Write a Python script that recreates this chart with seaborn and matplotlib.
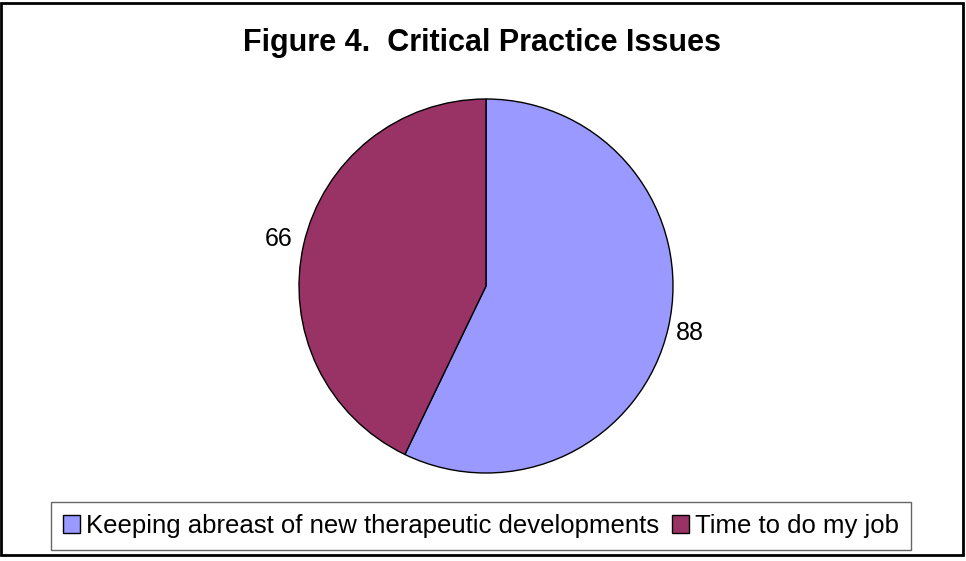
import numpy as np
import seaborn as sns
import matplotlib.pyplot as plt
from matplotlib.patches import Rectangle

# Данные
categories = ['Keeping abreast of new therapeutic developments', 'Time to do my job']
values = [88, 66]
colors = ['#9999FF', '#993366']
title = 'Figure 4.  Critical Practice Issues'

sns.set_theme(style='white')
plt.rcParams['font.family'] = ['Liberation Sans', 'DejaVu Sans']

fig = plt.figure(figsize=(9.66, 5.61), dpi=100)
fig.patch.set_facecolor('white')

# Рамка вокруг всего рисунка
fig.patches.append(Rectangle((1 / 966, 6 / 561), 962 / 966, 552 / 561,
                             transform=fig.transFigure, fill=False,
                             edgecolor='black', linewidth=2))

ax = fig.add_axes([299 / 966, 88 / 561, 374 / 966, 374 / 561])
wedges, texts = ax.pie(values, labels=[str(v) for v in values], colors=colors,
                       startangle=90, counterclock=False,
                       wedgeprops={'edgecolor': 'black', 'linewidth': 1},
                       textprops={'fontsize': 18, 'color': 'black'})

# Подписи значений рядом с секторами
dists = [1.12, 1.14]
for w, t, d in zip(wedges, texts, dists):
    ang = np.deg2rad((w.theta1 + w.theta2) / 2)
    t.set_position((d * np.cos(ang), d * np.sin(ang)))
    t.set_ha('center')
    t.set_va('center')

ax.set_xlim(-1, 1)
ax.set_ylim(-1, 1)
ax.set_aspect('equal')

fig.text(482 / 966, 1 - 43 / 561, title, ha='center', va='center',
         fontsize=22, fontweight='bold', color='black')

leg = fig.legend(wedges, categories, loc='center', ncol=2,
                 bbox_to_anchor=(481 / 966, 1 - 526 / 561),
                 fontsize=18.5, frameon=True, fancybox=False,
                 handlelength=0.66, handleheight=0.66, handletextpad=0.25,
                 columnspacing=0.5, borderpad=0.45, borderaxespad=0)
leg.get_frame().set_edgecolor('#404040')
leg.get_frame().set_linewidth(1)
for txt in leg.get_texts():
    txt.set_color('black')

fig.savefig('out.png', dpi=100)
